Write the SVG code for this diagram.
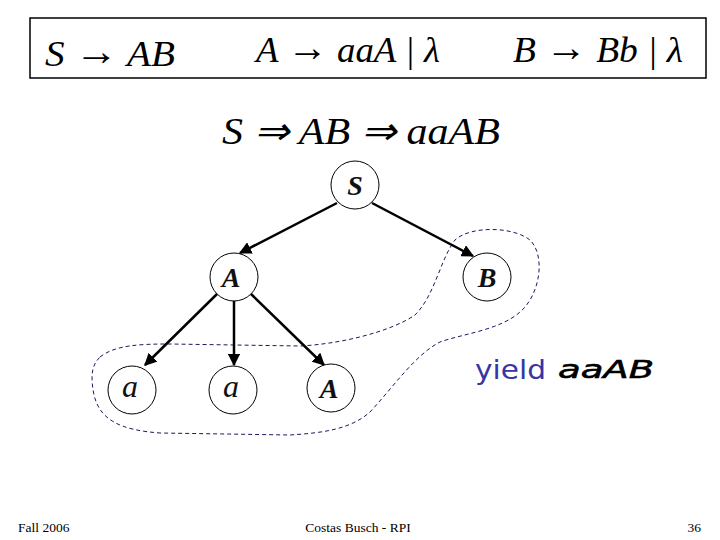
<svg xmlns="http://www.w3.org/2000/svg" width="720" height="540" viewBox="0 0 720 540">
<defs>
<style>
.math{font-family:"Liberation Serif","Times New Roman",serif;font-style:italic;fill:#000}
.arr{font-style:normal;font-size:40px}
.node circle{fill:#fff;stroke:#000;stroke-width:1}
.node text{font-family:"Liberation Serif","Times New Roman",serif;font-style:italic;font-weight:bold;font-size:28px;text-anchor:middle;fill:#111}
.node text.lc{font-weight:normal;font-size:32px}
.edge{stroke:#000;stroke-width:2.5;fill:none;marker-end:url(#ah)}
.foot{font-family:"Liberation Serif","Times New Roman",serif;font-size:13.5px;fill:#000}
</style>
<marker id="ah" viewBox="0 0 10 10" refX="9" refY="5" markerWidth="5" markerHeight="5" orient="auto" markerUnits="strokeWidth">
<path d="M0,0 L10,5 L0,10 Z" fill="#000"/>
</marker>
</defs>
<rect width="720" height="540" fill="#fff"/>
<g id="grammar">
<rect x="30" y="18" width="676" height="60" fill="#fff" stroke="#000" stroke-width="1.5"/>
<text class="math" x="45" y="66" font-size="36" textLength="130" lengthAdjust="spacingAndGlyphs">S <tspan class="arr" dy="-1">→</tspan><tspan dy="1"> AB</tspan></text>
<text class="math" x="256" y="62" font-size="36" textLength="184" lengthAdjust="spacingAndGlyphs">A <tspan class="arr" dy="-1">→</tspan><tspan dy="1"> aaA | λ</tspan></text>
<text class="math" x="513" y="62" font-size="36" textLength="170" lengthAdjust="spacingAndGlyphs">B <tspan class="arr" dy="-1">→</tspan><tspan dy="1"> Bb | λ</tspan></text>
</g>
<g id="derivation">
<text class="math" x="222" y="144" font-size="38" textLength="278" lengthAdjust="spacingAndGlyphs">S ⇒ AB ⇒ aaAB</text>
</g>
<g id="yield-region">
<path d="M100 357 C115 345,140 344,170 344 L300 346 C340 344,390 332,415 315 C435 295,440 260,455 240 C470 226,512 226,530 240 C546 256,540 295,520 312 C500 330,462 334,440 342 C415 355,395 385,370 412 C350 430,320 433,290 435 L160 433 C120 430,100 420,94 395 C90 375,92 365,100 357 Z" fill="none" stroke="#1a1a5e" stroke-width="1" stroke-dasharray="4 3"/>
</g>
<g id="connectors">
<line class="edge" x1="337" y1="203" x2="240" y2="253"/>
<line class="edge" x1="372" y1="203" x2="473" y2="256"/>
<line class="edge" x1="217" y1="294" x2="145" y2="365"/>
<line class="edge" x1="234" y1="300" x2="234" y2="365"/>
<line class="edge" x1="251" y1="294" x2="324" y2="365"/>
</g>
<g id="node-S" class="node"><circle cx="355" cy="185" r="24"/><text x="355" y="195">S</text></g>
<g id="node-A" class="node"><circle cx="234" cy="277" r="24"/><text x="231" y="287">A</text></g>
<g id="node-B" class="node"><circle cx="487" cy="277" r="24"/><text x="487" y="287">B</text></g>
<g id="node-a1" class="node"><circle cx="132" cy="390" r="24"/><text class="lc" x="130" y="397">a</text></g>
<g id="node-a2" class="node"><circle cx="233" cy="390" r="24"/><text class="lc" x="231" y="397">a</text></g>
<g id="node-A2" class="node"><circle cx="331" cy="388" r="24"/><text x="329" y="398">A</text></g>
<g id="yield-label">
<text x="475" y="379" font-family="'DejaVu Sans',sans-serif" font-size="27" fill="#3535a5" textLength="71" lengthAdjust="spacingAndGlyphs">yield</text>
<text x="558" y="378" font-family="'DejaVu Sans',sans-serif" font-size="24" font-style="italic" fill="#000" stroke="#000" stroke-width="0.6" textLength="96" lengthAdjust="spacingAndGlyphs">aaAB</text>
</g>
<g id="footer">
<text class="foot" x="18" y="532">Fall 2006</text>
<text class="foot" x="358" y="532" text-anchor="middle">Costas Busch - RPI</text>
<text class="foot" x="701" y="532" text-anchor="end">36</text>
</g>
</svg>
